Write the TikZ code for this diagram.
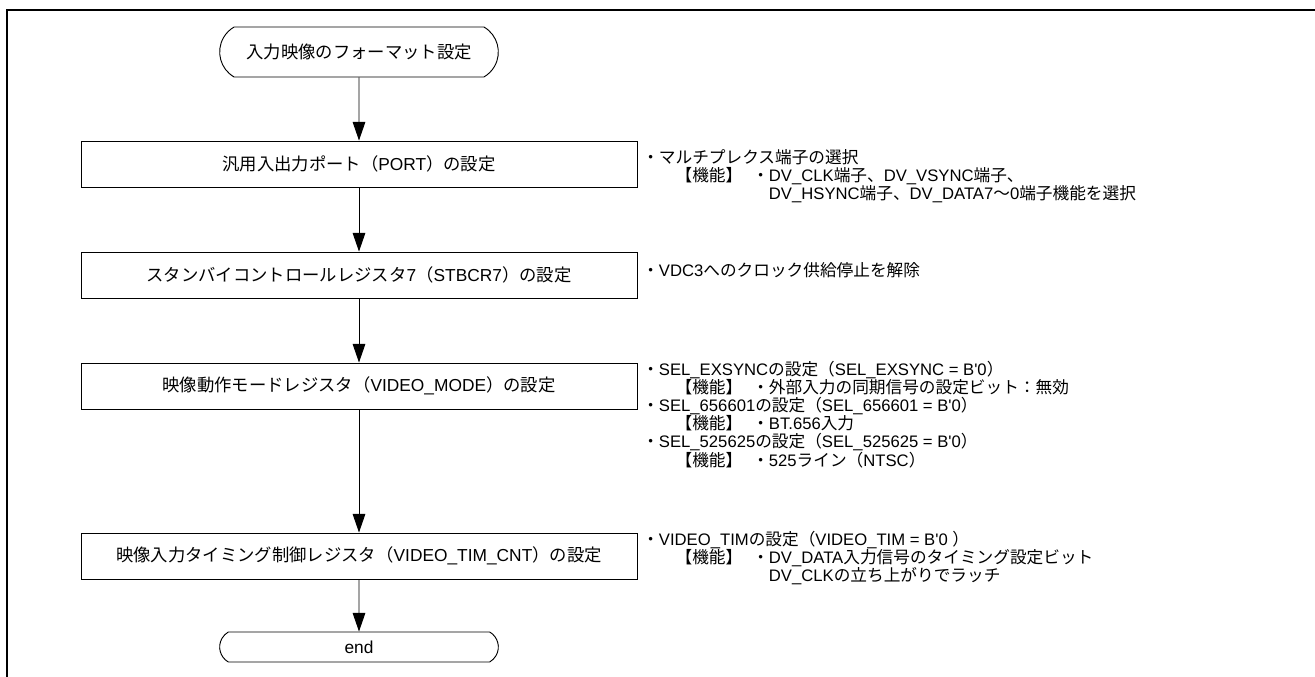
\documentclass[tikz,border=0pt]{standalone}
\usepackage{fontspec}
\setmainfont{Noto Sans CJK JP}
\newfontfamily\lat{Liberation Sans}
\newcommand\La[1]{{\lat #1}}
\usetikzlibrary{arrows.meta,shapes.misc}
\tikzset{
  frameline/.style={line width=1.6pt},
  procbox/.style={draw, line width=0.7pt, minimum width=417pt, minimum height=34.5pt, inner sep=0pt, font=\fontsize{13}{15}\selectfont},
  termbox/.style={draw, line width=0.7pt, rounded rectangle, rounded rectangle arc length=120, minimum width=209pt, inner sep=0pt, font=\fontsize{13}{15}\selectfont},
  flow/.style={line width=0.7pt, -{Triangle[length=14pt,width=9.5pt]}},
  note/.style={anchor=base west, inner sep=0pt, font=\fontsize{12.5}{14}\selectfont},
}
\newcommand\kino{\hspace*{2em}【機能】\hspace{0.6em}・}
\newcommand\kinoskip{\hspace*{2em}\phantom{【機能】\hspace{0.6em}・}}
\begin{document}
\begin{tikzpicture}[x=0.75pt,y=-0.75pt]
\useasboundingbox (0,0) rectangle (1315,677);
\draw[frameline] (7,677) -- (7,10) -- (1315,10);

\node[termbox, minimum height=37.5pt] (start) at (359,52) {入力映像のフォーマット設定};
\node[procbox] (b1) at (359,164) {汎用入出力ポート（\La{PORT}）の設定};
\node[procbox] (b2) at (359,275) {スタンバイコントロールレジスタ\La{7}（\La{STBCR7}）の設定};
\node[procbox] (b3) at (359,386) {映像動作モードレジスタ（\La{VIDEO\_MODE}）の設定};
\node[procbox] (b4) at (359,556) {映像入力タイミング制御レジスタ（\La{VIDEO\_TIM\_CNT}）の設定};
\node[termbox, minimum height=22.5pt] (end) at (359,647) {\La{end}};

\draw[flow] (start) -- (b1);
\draw[flow] (b1) -- (b2);
\draw[flow] (b2) -- (b3);
\draw[flow] (b3) -- (b4);
\draw[flow] (b4) -- (end);

\node[note] (n1a) at (642,164) {・マルチプレクス端子の選択};
\node[note] (n1b) at (642,182) {\kino\La{DV\_CLK}端子、\La{DV\_VSYNC}端子、};
\node[note] (n1c) at (642,200) {\kinoskip\La{DV\_HSYNC}端子、\La{DV\_DATA7}～\La{0}端子機能を選択};

\node[note] (n2a) at (642,277) {・\La{VDC3}へのクロック供給停止を解除};

\node[note] (n3a) at (642,376) {・\La{SEL\_EXSYNC}の設定（\La{SEL\_EXSYNC = B'0}）};
\node[note] (n3b) at (642,394) {\kino 外部入力の同期信号の設定ビット：無効};
\node[note] (n3c) at (642,412) {・\La{SEL\_656601}の設定（\La{SEL\_656601 = B'0}）};
\node[note] (n3d) at (642,430) {\kino\La{BT.656}入力};
\node[note] (n3e) at (642,448) {・\La{SEL\_525625}の設定（\La{SEL\_525625 = B'0}）};
\node[note] (n3f) at (642,466) {\kino\La{525}ライン（\La{NTSC}）};

\node[note] (n4a) at (642,545) {・\La{VIDEO\_TIM}の設定（\La{VIDEO\_TIM = B'0 }）};
\node[note] (n4b) at (642,563) {\kino\La{DV\_DATA}入力信号のタイミング設定ビット};
\node[note] (n4c) at (642,581) {\kinoskip\La{DV\_CLK}の立ち上がりでラッチ};
\end{tikzpicture}
\end{document}
